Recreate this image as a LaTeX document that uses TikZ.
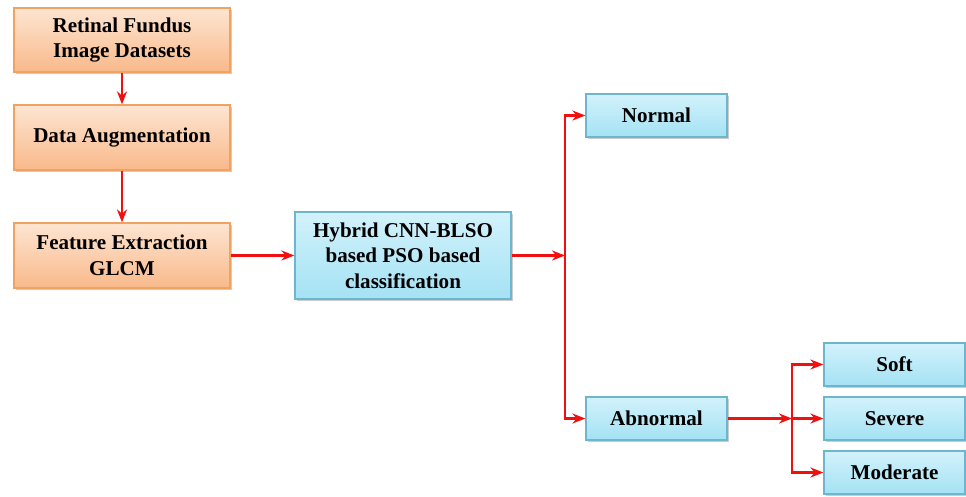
\documentclass[tikz,border=0pt]{standalone}
\usepackage{fontspec}
\setmainfont{Liberation Serif}
\usepackage{xcolor}
\usepackage{tikz}
\usetikzlibrary{arrows.meta,positioning,shadows}
\definecolor{StageTop}{HTML}{FDE5D2}
\definecolor{StageBottom}{HTML}{F9B98A}
\definecolor{StageEdge}{HTML}{F0A263}
\definecolor{ClassTop}{HTML}{D2F2FB}
\definecolor{ClassBottom}{HTML}{A4E2F4}
\definecolor{ClassEdge}{HTML}{6DB6CE}
\definecolor{FlowRed}{HTML}{F01010}

\begin{document}
\begin{tikzpicture}[
  font=\bfseries\fontsize{12}{14.5}\selectfont,
  >={Stealth[length=2.6mm,width=2mm]},
  boxbase/.style={draw,line width=0.7pt,align=center,inner sep=2pt,
                  drop shadow={shadow xshift=0.9pt,shadow yshift=-1.1pt,opacity=0.4,fill=gray}},
  stage/.style={boxbase,draw=StageEdge,top color=StageTop,bottom color=StageBottom,
                minimum width=4.32cm,minimum height=1.3cm},
  classbox/.style={boxbase,draw=ClassEdge,top color=ClassTop,bottom color=ClassBottom,
                   minimum width=2.82cm,minimum height=0.86cm},
  flow/.style={->,draw=FlowRed,line width=1.5pt},
]
  \useasboundingbox (0,0) rectangle (19.32,9.92);

  % pipeline on the left
  \node[stage,minimum height=1.28cm] (datasets) at (2.44,9.12) {Retinal Fundus\\Image Datasets};
  \node[stage] (augment) at (2.44,7.17) {Data Augmentation};
  \node[stage] (features) at (2.44,4.81) {Feature Extraction\\GLCM};

  \node[classbox,minimum width=4.32cm,minimum height=1.74cm] (hybrid) at (8.06,4.81)
    {Hybrid CNN-BLSO\\based PSO based\\classification};

  % outcomes
  \node[classbox] (normal) at (13.13,7.61) {Normal};
  \node[classbox] (abnormal) at (13.13,1.55) {Abnormal};
  \node[classbox] (soft) at (17.89,2.63) {Soft};
  \node[classbox] (severe) at (17.89,1.55) {Severe};
  \node[classbox] (moderate) at (17.89,0.47) {Moderate};

  \coordinate (split) at (11.3,4.81);
  \coordinate (grade) at (15.84,1.55);

  \draw[flow] (datasets) -- (augment);
  \draw[flow] (augment) -- (features);
  \draw[flow] (features) -- (hybrid);
  \draw[flow] (hybrid) -- (split);
  \draw[flow] (split) |- (normal.west);
  \draw[flow] (split) |- (abnormal.west);
  \draw[flow] (abnormal) -- (grade);
  \draw[flow] (grade) |- (soft.west);
  \draw[flow] (grade) -- (severe.west);
  \draw[flow] (grade) |- (moderate.west);
\end{tikzpicture}
\end{document}
